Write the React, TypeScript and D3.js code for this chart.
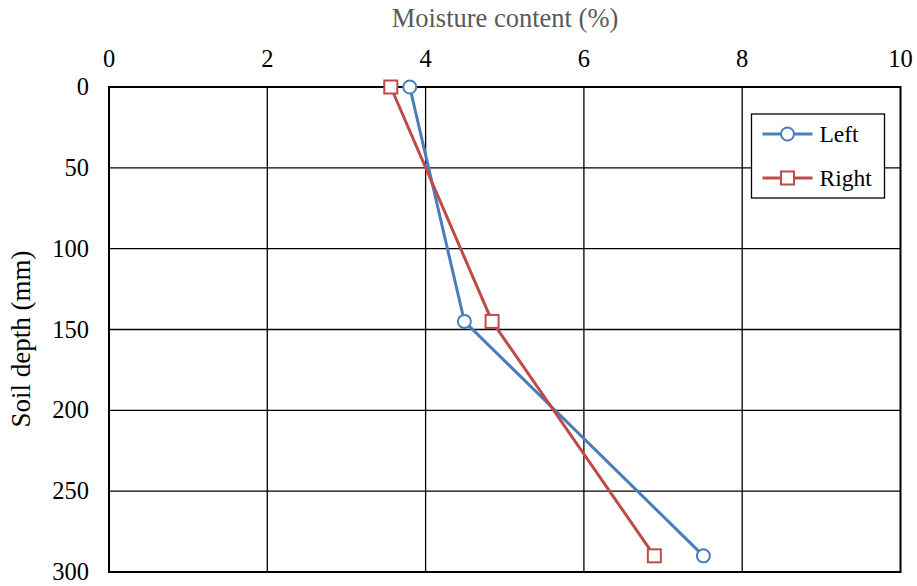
import React from "react";
import * as d3 from "d3";

const depths = [0, 145, 290];
const leftValues = [3.8, 4.49, 7.51];
const rightValues = [3.56, 4.84, 6.89];
const xTicks = [0, 2, 4, 6, 8, 10];
const yTicks = [0, 50, 100, 150, 200, 250, 300];
const seriesNames = ["Left", "Right"];

const W = 917, H = 586;
const M = { left: 109, right: 900.5, top: 87, bottom: 572 };
const FONT = "Liberation Serif, DejaVu Serif, serif";

export default function App() {
  const x = d3.scaleLinear().domain([0, 10]).range([M.left, M.right]);
  const y = d3.scaleLinear().domain([0, 300]).range([M.top, M.bottom]);
  const line = d3.line<[number, number]>().x(d => x(d[0])).y(d => y(d[1]));
  const leftPts: [number, number][] = leftValues.map((v, i) => [v, depths[i]]);
  const rightPts: [number, number][] = rightValues.map((v, i) => [v, depths[i]]);
  const blue = "#4a7ebb", red = "#be4b48";
  const lgX = 751.5, lgY = 114, lgW = 133, lgH = 84;
  return (
    <svg width={W} height={H} style={{ position: "absolute", left: 0, top: 0, fontFamily: FONT }}>
      <rect width={W} height={H} fill="#fff" />
      {xTicks.slice(1, -1).map(t => (
        <line key={"gx" + t} x1={x(t)} x2={x(t)} y1={M.top} y2={M.bottom} stroke="#000" strokeWidth={1.3} />
      ))}
      {yTicks.slice(1, -1).map(t => (
        <line key={"gy" + t} x1={M.left} x2={M.right} y1={y(t)} y2={y(t)} stroke="#000" strokeWidth={1.3} />
      ))}
      <rect x={M.left} y={M.top} width={M.right - M.left} height={M.bottom - M.top} fill="none" stroke="#000" strokeWidth={2} />
      {xTicks.map(t => (
        <text key={"tx" + t} x={x(t)} y={67} textAnchor="middle" style={{ fontFamily: FONT }} fontSize={24.5} fill="#000">{t}</text>
      ))}
      {yTicks.map(t => (
        <text key={"ty" + t} x={89} y={y(t) + 8} textAnchor="end" style={{ fontFamily: FONT }} fontSize={24.5} fill="#000">{t}</text>
      ))}
      <text x={505} y={27} textAnchor="middle" style={{ fontFamily: FONT }} fontSize={26.5} fill="#595959">Moisture content (%)</text>
      <text transform={`translate(30,${339}) rotate(-90)`} textAnchor="middle" style={{ fontFamily: FONT }} fontSize={27} fill="#000">Soil depth (mm)</text>
      <path d={line(leftPts) || ""} fill="none" stroke={blue} strokeWidth={3} />
      <path d={line(rightPts) || ""} fill="none" stroke={red} strokeWidth={3} />
      {leftPts.map((p, i) => (
        <circle key={"lc" + i} cx={x(p[0])} cy={y(p[1])} r={6.5} fill="#fff" stroke={blue} strokeWidth={2} />
      ))}
      {rightPts.map((p, i) => (
        <rect key={"rs" + i} x={x(p[0]) - 6.5} y={y(p[1]) - 6.5} width={13} height={13} fill="#fff" stroke={red} strokeWidth={2} />
      ))}
      <rect x={lgX} y={lgY} width={lgW} height={lgH} fill="#fff" stroke="#000" strokeWidth={1.3} />
      {seriesNames.map((n, i) => {
        const cy = lgY + 20 + i * 44;
        const c = i === 0 ? blue : red;
        return (
          <g key={n}>
            <line x1={lgX + 11} x2={lgX + 61} y1={cy} y2={cy} stroke={c} strokeWidth={3} />
            {i === 0 ? (
              <circle cx={lgX + 36} cy={cy} r={6.5} fill="#fff" stroke={c} strokeWidth={2} />
            ) : (
              <rect x={lgX + 29.5} y={cy - 6.5} width={13} height={13} fill="#fff" stroke={c} strokeWidth={2} />
            )}
            <text x={lgX + 68} y={cy + 8} style={{ fontFamily: FONT }} fontSize={23.5} fill="#000">{n}</text>
          </g>
        );
      })}
    </svg>
  );
}
